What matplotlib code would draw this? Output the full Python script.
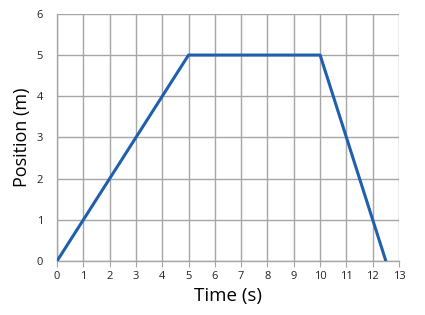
import matplotlib
matplotlib.use("Agg")
import matplotlib.pyplot as plt

# position vs time data
time_s = [0, 5, 10, 12.5]
position_m = [0, 5, 5, 0]
x_ticks = list(range(0, 14))
y_ticks = list(range(0, 7))

plt.rcParams['font.family'] = ['Open Sans', 'DejaVu Sans']

fig = plt.figure(figsize=(4.25, 3.15), dpi=100)
ax = fig.add_axes([0.134, 0.171, 0.805, 0.785])

ax.plot(time_s, position_m, color='#1f5fad', linewidth=2.2, solid_capstyle='butt', zorder=3)

ax.set_xlim(0, 13)
ax.set_ylim(0, 6)
ax.set_xticks(x_ticks)
ax.set_yticks(y_ticks)
ax.grid(True, color='#a6a6a6', linewidth=1)
ax.set_axisbelow(True)
for s in ax.spines.values():
    s.set_color('#a6a6a6')
    s.set_linewidth(1)
ax.spines['top'].set_visible(False)
ax.spines['right'].set_visible(False)
ax.tick_params(axis='x', length=4, color='#a6a6a6', labelsize=8, pad=3, labelcolor='#222222')
ax.tick_params(axis='y', length=0, labelsize=8, pad=10, labelcolor='#222222')

ax.set_xlabel('Time (s)', fontsize=13.5, labelpad=4)
ax.set_ylabel('Position (m)', fontsize=13, labelpad=4)

fig.savefig('out.png', dpi=100)
